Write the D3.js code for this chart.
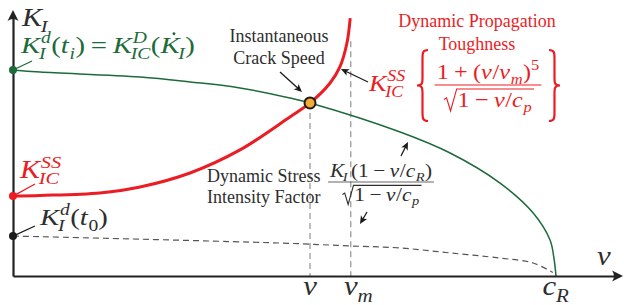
<!DOCTYPE html>
<html><head><meta charset="utf-8">
<script src="https://cdn.jsdelivr.net/npm/d3@7"></script>
<style>body{margin:0;background:#fff}svg{display:block}text{white-space:pre}</style>
</head><body><svg id="c" width="624" height="305"></svg>
<script>
// ---------- data (v in units of c_R, K in units of K_I^d(t_i)) ----------
const greenV = [0, 0.05, 0.234, 0.326, 0.418, 0.51, 0.547, 0.713, 0.805, 0.897, 0.958, 0.989, 0.996, 1];
const greenK = [1, 0.99, 0.966, 0.942, 0.913, 0.864, 0.84, 0.699, 0.597, 0.451, 0.306, 0.175, 0.09, 0];
const redV = [0, 0.05, 0.16, 0.234, 0.326, 0.418, 0.51, 0.547, 0.584, 0.602, 0.615, 0.621];
const redK = [0.388, 0.391, 0.403, 0.432, 0.5, 0.612, 0.772, 0.84, 0.937, 1.015, 1.131, 1.252];
const dashV = [0, 0.492, 0.621, 0.713, 0.805, 0.897, 0.958, 0.994];
const dashK = [0.194, 0.160, 0.146, 0.136, 0.112, 0.087, 0.063, 0.017];
const startK = [1, 0.388, 0.194];          // green, red, black dots on K axis
const crackV = 0.547, crackK = 0.84;       // instantaneous crack speed
const vmV = 0.622, vmTopK = 1.14;          // v_m guide
const tickValues = [0.547, 0.622, 1];
const tickLabels = [["v", ""], ["v", "m"], ["c", "R"]];
const xMax = 1.1234, yMax = 1.291;

// ---------- setup ----------
const svg = d3.select('#c');
const x = d3.scaleLinear().domain([0, 1]).range([13, 556]);
const y = d3.scaleLinear().domain([0, 1]).range([276, 70]);
const GREEN = '#1d6b3b', RED = '#ec1c24', TXT = '#2e2e2e', GREY = '#9a9a9a';
const SERIF = "'Liberation Serif','Times New Roman',serif";
let MSX = 1.18;   // horizontal stretch of math glyphs (TeX fonts are wider)

// ---------- math text helpers ----------
function tokens(s){ return s.match(/[A-Za-z]+|[=+−]|[^A-Za-z=+−]+/g) || []; }
function run(g, str, x0, y0, size, color){
  let cx = x0;
  tokens(str).forEach(tk => {
    const isL = /^[A-Za-z]+$/.test(tk), isOp = /^[=+−]$/.test(tk);
    if (isOp) cx += size*0.24;
    const h = g.append('g').attr('transform', `translate(${cx},${y0}) scale(${MSX},1)`);
    const t = h.append('text').attr('x', 0).attr('y', 0).attr('font-family', SERIF)
      .attr('font-size', size).attr('font-style', isL ? 'italic' : 'normal').attr('fill', color).text(tk);
    cx += t.node().getComputedTextLength()*MSX + (isL ? size*0.03 : 0);
    if (isOp) cx += size*0.24;
  });
  return cx - x0;
}
function mrow(parent, items, size, color){
  const g = parent.append('g');
  let cx = 0;
  items.forEach(it => {
    if (typeof it === 'string') it = {b: it};
    const w = run(g, it.b, cx, 0, size, color);
    if (it.dot) g.append('circle').attr('cx', cx + w*0.68).attr('cy', -size*0.8).attr('r', size*0.06).attr('fill', color);
    const nx = cx + w, ss = size*0.68;
    let mw = 0;
    if (it.sup) mw = Math.max(mw, run(g, it.sup, nx + (it.supdx||0), -size*0.4, ss, color) + (it.supdx||0));
    if (it.sub) mw = Math.max(mw, run(g, it.sub, nx + (it.subdx||0), size*0.24, ss, color) + (it.subdx||0));
    cx = nx + mw + (it.gap||0);
  });
  g.attr('data-w', cx);
  return g;
}
function place(g, px, py, anchor){
  const w = +g.attr('data-w');
  const dx = anchor === 'middle' ? -w/2 : 0;
  g.attr('transform', `translate(${px+dx},${py})`);
  return g;
}
function frac(parent, cx, ly, num, den, size, color, lineColor, sqrt){
  const g = parent.append('g');
  const n = mrow(g, num, size, color), nw = +n.attr('data-w');
  const d = mrow(g, den, size, color), dw = +d.attr('data-w');
  const rad = sqrt ? size*0.62 : 0;
  const tot = Math.max(nw, dw + rad) + size*0.2;
  n.attr('transform', `translate(${cx - nw/2},${ly - size*0.28})`);
  const dx0 = cx - (dw + rad)/2 + rad, yb = ly + size*0.98;
  d.attr('transform', `translate(${dx0},${yb})`);
  g.append('line').attr('x1', cx - tot/2).attr('x2', cx + tot/2).attr('y1', ly).attr('y2', ly)
    .attr('stroke', lineColor).attr('stroke-width', 1.1);
  if (sqrt){
    const s = size, x0 = dx0 - rad, yt = yb - 0.8*s, ybot = yb + 0.2*s;
    g.append('path').attr('d', `M${x0},${yb-0.32*s}L${x0+0.12*s},${yb-0.4*s}L${x0+0.3*s},${ybot}L${dx0-0.04*s},${yt}L${dx0+dw+2},${yt}`)
      .attr('fill', 'none').attr('stroke', color).attr('stroke-width', 1.1);
  }
}
function arrow(x1, y1, x2, y2, color){
  const a = Math.atan2(y2 - y1, x2 - x1);
  svg.append('line').attr('x1', x1).attr('y1', y1).attr('x2', x2 - 4*Math.cos(a)).attr('y2', y2 - 4*Math.sin(a))
    .attr('stroke', color).attr('stroke-width', 1.3);
  svg.append('path').attr('d', 'M0,0L-8,-3.6L-6,0L-8,3.6Z').attr('fill', color)
    .attr('transform', `translate(${x2},${y2}) rotate(${a*180/Math.PI})`);
}
function brace(x0, y0, y1, w, dir, color){
  const h = y1 - y0, m = (y0 + y1)/2, xm = x0 + dir*w*0.5, xt = x0, xe = x0 + dir*w;
  const p = `M${xe},${y0} C${xm},${y0} ${xm},${y0+3} ${xm},${y0+h*0.12} L${xm},${m-h*0.1} C${xm},${m-3} ${xm},${m} ${xt},${m}` +
            ` C${xm},${m} ${xm},${m+3} ${xm},${m+h*0.1} L${xm},${y1-h*0.12} C${xm},${y1-3} ${xm},${y1} ${xe},${y1}`;
  svg.append('path').attr('d', p).attr('fill', 'none').attr('stroke', color).attr('stroke-width', 2.2);
}

// ---------- guides ----------
svg.append('line').attr('x1', x(crackV)).attr('x2', x(crackV)).attr('y1', y(crackK)).attr('y2', y(0))
  .attr('stroke', GREY).attr('stroke-width', 1.3).attr('stroke-dasharray', '6,4');
svg.append('line').attr('x1', x(vmV)).attr('x2', x(vmV)).attr('y1', y(vmTopK)).attr('y2', y(0))
  .attr('stroke', GREY).attr('stroke-width', 1.3).attr('stroke-dasharray', '6,4');

// ---------- curves ----------
const line = d3.line().x(d => x(d[0])).y(d => y(d[1])).curve(d3.curveCatmullRom.alpha(0.5));
svg.append('path').attr('d', line(dashV.map((v, i) => [v, dashK[i]])))
  .attr('fill', 'none').attr('stroke', '#555').attr('stroke-width', 1.2).attr('stroke-dasharray', '6,4');
svg.append('path').attr('d', line(greenV.map((v, i) => [v, greenK[i]])))
  .attr('fill', 'none').attr('stroke', GREEN).attr('stroke-width', 1.5);
svg.append('path').attr('d', line(redV.map((v, i) => [v, redK[i]])))
  .attr('fill', 'none').attr('stroke', RED).attr('stroke-width', 3);

// ---------- axes ----------
const xa = x.copy().domain([0, xMax]).range([x(0), x(xMax) - 4]);
const ya = y.copy().domain([0, yMax]).range([y(0), y(yMax) + 4]);
svg.append('g').attr('transform', `translate(0,${y(0)})`)
  .call(d3.axisBottom(xa).tickValues([]).tickSizeOuter(0))
  .call(g => g.select('.domain').attr('stroke', '#222').attr('stroke-width', 2.2));
svg.append('g').attr('transform', `translate(${x(0)},0)`)
  .call(d3.axisLeft(ya).tickValues([]).tickSizeOuter(0))
  .call(g => g.select('.domain').attr('stroke', '#222').attr('stroke-width', 2.2));
svg.append('path').attr('d', 'M0,0L-11,-5.5Q-7,0 -11,5.5Z').attr('fill', '#222')
  .attr('transform', `translate(${x(xMax)},${y(0)})`);
svg.append('path').attr('d', 'M0,0L-11,-5.5Q-7,0 -11,5.5Z').attr('fill', '#222')
  .attr('transform', `translate(${x(0)},${y(yMax)}) rotate(-90)`);

// tick labels
MSX = 1.1;
tickLabels.forEach((tl, i) => {
  const g = mrow(svg, [{b: tl[0], sub: tl[1] || null, subdx: -1}], 28, TXT);
  const baseW = g.select('text').node().getComputedTextLength()*MSX;
  const w = +g.attr('data-w');
  const px = x(tickValues[i]);
  const left = i === 2 ? px - w/2 : px - baseW/2;
  g.attr('transform', `translate(${left},${295})`);
});
place(mrow(svg, ['v'], 28, TXT), 597, 265);

// ---------- dots ----------
const dotColors = [GREEN, RED, '#1a1a1a'];
startK.forEach((k, i) => svg.append('circle').attr('cx', x(0)).attr('cy', y(k)).attr('r', 4).attr('fill', dotColors[i]));
svg.append('circle').attr('cx', x(crackV)).attr('cy', y(crackK)).attr('r', 5.5)
  .attr('fill', '#f7a935').attr('stroke', '#1a1a1a').attr('stroke-width', 2);

// leader lines
[[GREEN, 1, 32, 61], [RED, 0.388, 35, 184], ['#1a1a1a', 0.194, 35, 226]].forEach(([c, k, ex, ey]) =>
  svg.append('line').attr('x1', x(0)).attr('y1', y(k)).attr('x2', ex).attr('y2', ey).attr('stroke', c).attr('stroke-width', 1.3));

// ---------- labels ----------
MSX = 1.2;
place(mrow(svg, [{b: 'K', sub: 'I', subdx: -2}], 25, TXT), 22, 26);
place(mrow(svg, [{b: 'K', sub: 'I', sup: 'd', subdx: -2}, '(', {b: 't', sub: 'i'}, ')', '=',
  {b: 'K', sub: 'IC', sup: 'D', subdx: -2}, '(', {b: 'K', sub: 'I', dot: true, subdx: -2}, ')'], 24, GREEN), 21, 53);
place(mrow(svg, [{b: 'K', sub: 'IC', sup: 'SS', subdx: -2}], 25, RED), 20, 178);
place(mrow(svg, [{b: 'K', sub: 'I', sup: 'd', subdx: -2}, '(', {b: 't', sub: '0'}, ')'], 24, TXT), 40, 225);

function words(lines, px, anchor, color){
  lines.forEach(([t, py]) => svg.append('text').attr('x', px).attr('y', py).attr('text-anchor', anchor)
    .attr('font-family', SERIF).attr('font-size', 18).attr('fill', color).text(t));
}
words([['Instantaneous', 42], ['Crack Speed', 64]], 279, 'middle', TXT);
words([['Dynamic Propagation', 27], ['Toughness', 50]], 477, 'middle', RED);
words([['Dynamic Stress', 182], ['Intensity Factor', 203]], 207, 'start', TXT);

// red formula
MSX = 1.1;
place(mrow(svg, [{b: 'K', sub: 'IC', sup: 'SS', subdx: -2}], 24, RED), 369, 91);
brace(417, 50, 121, 11, 1, RED);
brace(560, 50, 121, 11, -1, RED);
frac(svg, 488, 85, ['1', '+', '(', 'v', '/', {b: 'v', sub: 'm'}, {b: ')', sup: '5'}],
  ['1', '−', 'v', '/', {b: 'c', sub: 'p'}], 22, RED, RED, true);

// grey formula
MSX = 1.12;
frac(svg, 381, 182, [{b: 'K', sub: 'I', subdx: -2, gap: 3}, '(1', '−', 'v', '/', {b: 'c', sub: 'R'}, ')'],
  ['1', '−', 'v', '/', {b: 'c', sub: 'p'}], 19, TXT, '#666', true);

// arrows
arrow(280, 72, 302, 92, '#1a1a1a');
arrow(368, 82, 341, 69, '#1a1a1a');
arrow(401, 156, 408, 142, '#1a1a1a');
arrow(367, 212, 360, 224, '#1a1a1a');
</script></body></html>
